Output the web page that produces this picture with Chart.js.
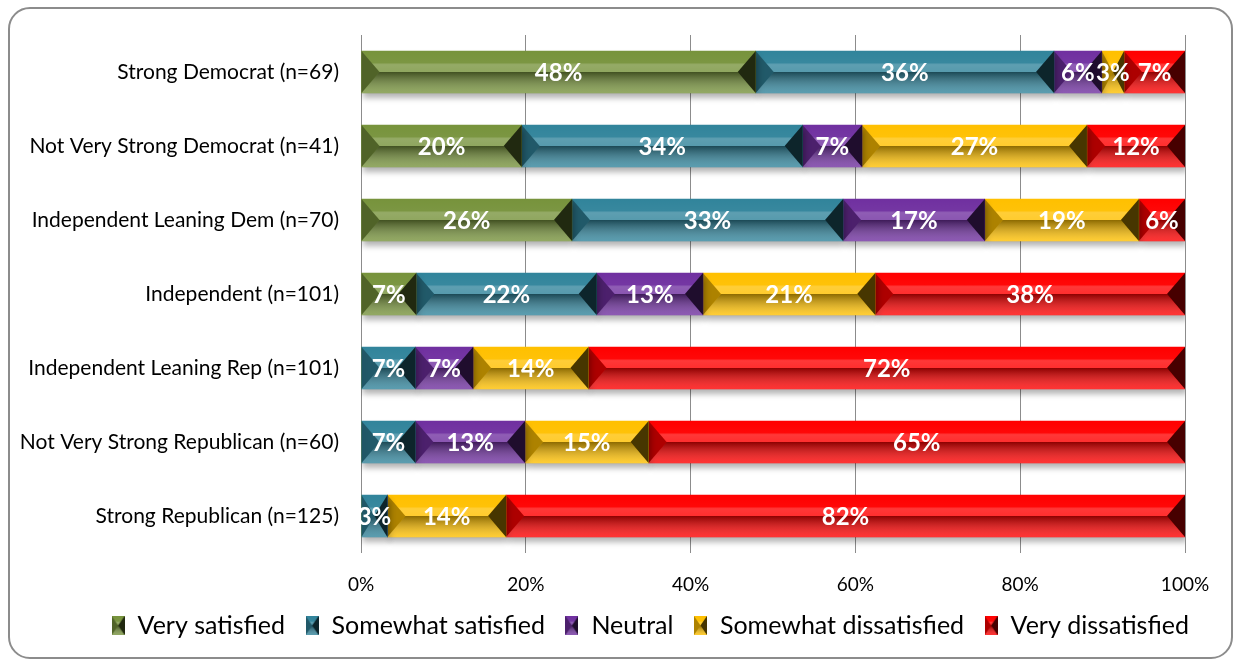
<!DOCTYPE html>
<html>
<head>
<meta charset="utf-8">
<script src="https://cdn.jsdelivr.net/npm/chart.js@4.4.1/dist/chart.umd.min.js"></script>
<style>
  html, body { margin: 0; padding: 0; background: #fff; }
  #wrap { position: relative; width: 1241px; height: 662px; }
  #frame {
    position: absolute; left: 8px; top: 7px; width: 1221px; height: 648px;
    border: 2px solid #8c8c8c; border-radius: 22px; pointer-events: none;
  }
</style>
</head>
<body>
<div id="wrap">
  <canvas id="chart" width="1241" height="662"></canvas>
  <div id="frame"></div>
</div>
<script>
// Satisfaction by party identification (share of each group, %)
const categories = [
  "Strong Democrat (n=69)",
  "Not Very Strong Democrat (n=41)",
  "Independent Leaning Dem (n=70)",
  "Independent (n=101)",
  "Independent Leaning Rep (n=101)",
  "Not Very Strong Republican (n=60)",
  "Strong Republican (n=125)"
];
const seriesNames = ["Very satisfied", "Somewhat satisfied", "Neutral", "Somewhat dissatisfied", "Very dissatisfied"];
const verySatisfied        = [47.9, 19.5, 25.6, 6.7, 0, 0, 0];
const somewhatSatisfied    = [36.2, 34.1, 32.9, 21.9, 6.6, 6.6, 3.2];
const neutral              = [5.8, 7.2, 17.2, 12.9, 7.0, 13.3, 0];
const somewhatDissatisfied = [2.7, 27.3, 18.7, 20.9, 14.0, 15.0, 14.4];
const veryDissatisfied     = [7.4, 11.9, 5.6, 37.6, 72.4, 65.1, 82.4];
const xTicks = [0, 20, 40, 60, 80, 100];

const colors = ["#77933C", "#31849B", "#7030A0", "#FFC000", "#FF0000"];
const FONT = "Lato, 'Open Sans', sans-serif";

function poly(ctx, pts, fill) {
  ctx.beginPath();
  ctx.moveTo(pts[0][0], pts[0][1]);
  for (let i = 1; i < pts.length; i++) ctx.lineTo(pts[i][0], pts[i][1]);
  ctx.closePath();
  ctx.fillStyle = fill;
  ctx.fill();
}

// bevel look drawn on top of a flat bar
function bevel(ctx, x0, x1, y0, y1, maxD) {
  const w = x1 - x0, ym = (y0 + y1) / 2, d = Math.min(maxD, w / 2);
  let g = ctx.createLinearGradient(0, y0, 0, ym);
  g.addColorStop(0, "rgba(255,255,255,0)");
  g.addColorStop(0.55, "rgba(255,255,255,0.03)");
  g.addColorStop(0.65, "rgba(255,255,255,0.22)");
  g.addColorStop(1, "rgba(255,255,255,0.18)");
  poly(ctx, [[x0, y0], [x1, y0], [x1 - d, ym], [x0 + d, ym]], g);
  g = ctx.createLinearGradient(0, ym, 0, y1);
  g.addColorStop(0, "rgba(0,0,0,0.45)");
  g.addColorStop(1, "rgba(255,255,255,0.2)");
  poly(ctx, [[x0 + d, ym], [x1 - d, ym], [x1, y1], [x0, y1]], g);
  poly(ctx, [[x0, y0], [x0 + d, ym], [x0, y1]], "rgba(0,0,0,0.32)");
  poly(ctx, [[x1, y0], [x1 - d, ym], [x1, y1]], "rgba(0,0,0,0.72)");
}

// small bevelled swatches for the legend
const icons = colors.map(c => {
  const cv = document.createElement("canvas");
  cv.width = 13; cv.height = 19;
  const ctx = cv.getContext("2d");
  ctx.fillStyle = c;
  ctx.fillRect(0, 0, 13, 19);
  bevel(ctx, 0, 13, 0, 19, 6.5);
  return cv;
});

const bevelPlugin = {
  id: "bevel",
  beforeLayout(chart) {
    // let the legend use the full frame width so it stays on one row
    const lg = chart.legend;
    if (lg && !lg._wide) {
      const fit = lg.fit.bind(lg);
      lg.fit = function () { this.maxWidth = 1300; fit(); };
      lg._wide = true;
    }
  },
  afterLayout(chart) {
    // legend centred under the whole frame, not only the plot
    if (chart.legend) {
      chart.legend.left = 60;
      chart.legend.right = 1240;
      chart.legend.width = 1180;
    }
  },
  beforeDatasetsDraw(chart) {
    const ctx = chart.ctx;
    ctx.save();
    ctx.shadowColor = "rgba(0,0,0,0.3)";
    ctx.shadowBlur = 6;
    ctx.shadowOffsetX = 2;
    ctx.shadowOffsetY = 5;
  },
  afterDatasetsDraw(chart) {
    const ctx = chart.ctx;
    ctx.restore();
    chart.data.datasets.forEach((ds, i) => {
      chart.getDatasetMeta(i).data.forEach((bar, j) => {
        const v = ds.data[j];
        if (!v) return;
        const p = bar.getProps(["x", "y", "base", "height"], true);
        const y0 = p.y - p.height / 2, y1 = p.y + p.height / 2;
        bevel(ctx, p.base, p.x, y0, y1, 18);
      });
    });
    // value labels
    ctx.save();
    ctx.font = "bold 24px " + FONT;
    ctx.fillStyle = "#fff";
    ctx.textAlign = "center";
    ctx.textBaseline = "middle";
    chart.data.datasets.forEach((ds, i) => {
      chart.getDatasetMeta(i).data.forEach((bar, j) => {
        const v = ds.data[j];
        if (!v) return;
        const p = bar.getProps(["x", "y", "base"], true);
        ctx.fillText(Math.round(v) + "%", (p.base + p.x) / 2, p.y + 1);
      });
    });
    ctx.restore();
  }
};

const seriesData = [verySatisfied, somewhatSatisfied, neutral, somewhatDissatisfied, veryDissatisfied];

new Chart(document.getElementById("chart"), {
  type: "bar",
  data: {
    labels: categories,
    datasets: seriesNames.map((name, i) => ({
      label: name,
      data: seriesData[i],
      backgroundColor: colors[i],
      borderWidth: 0,
      barThickness: 42
    }))
  },
  options: {
    indexAxis: "y",
    responsive: false,
    animation: false,
    layout: { padding: { top: 35, right: 56, left: 0, bottom: 14 } },
    scales: {
      x: {
        stacked: true,
        min: 0,
        max: 100,
        afterBuildTicks: s => { s.ticks = xTicks.map(v => ({ value: v })); },
        afterFit: s => { s.height = 40; },
        grid: { color: "#8c8c8c", lineWidth: 1, drawTicks: false },
        border: { display: false },
        ticks: { color: "#000", padding: 20, font: { family: FONT, size: 19 }, callback: v => v + "%" }
      },
      y: {
        stacked: true,
        afterFit: s => { s.width = 361; },
        grid: { display: false, drawTicks: false },
        border: { display: false },
        ticks: { color: "#000", padding: 22, font: { family: FONT, size: 21 } }
      }
    },
    plugins: {
      tooltip: { enabled: false },
      legend: {
        position: "bottom",
        labels: {
          usePointStyle: true,
          boxWidth: 14,
          color: "#000",
          padding: 20,
          font: { family: FONT, size: 25 },
          generateLabels: chart => Chart.defaults.plugins.legend.labels.generateLabels(chart)
            .map((l, i) => Object.assign(l, { pointStyle: icons[i] }))
        }
      }
    }
  },
  plugins: [bevelPlugin]
});
</script>
</body>
</html>
